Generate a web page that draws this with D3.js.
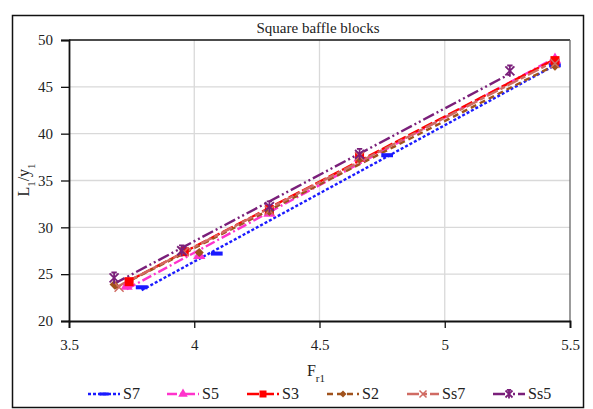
<!DOCTYPE html>
<html>
<head>
<meta charset="utf-8">
<script src="https://cdn.jsdelivr.net/npm/d3@7"></script>
<style>
  body { margin: 0; background: #fff; }
  text { font-family: "Liberation Serif", "DejaVu Serif", serif; fill: #222; }
</style>
</head>
<body>
<div id="chart"></div>
<script>
// series names, values
const seriesNames = ["S7", "S5", "S3", "S2", "Ss7", "Ss5"];
const s7x = [3.79, 4.09, 4.77, 5.44];
const s7y = [23.6, 27.2, 37.7, 47.3];
const s5x = [3.73, 4.02, 4.30, 4.66, 5.44];
const s5y = [23.7, 27.0, 31.5, 37.4, 47.9];
const s3x = [3.74, 3.96, 4.30, 4.66, 5.44];
const s3y = [24.2, 27.4, 31.9, 37.5, 47.8];
const s2x = [3.68, 4.02, 4.30, 4.66, 5.44];
const s2y = [23.9, 27.3, 31.7, 37.3, 47.2];
const ss7x = [3.70, 3.96, 4.30, 4.66, 5.44];
const ss7y = [23.6, 27.4, 31.8, 37.6, 47.5];
const ss5x = [3.68, 3.95, 4.30, 4.66, 5.26];
const ss5y = [24.6, 27.5, 32.2, 37.8, 46.7];
const xTicks = [3.5, 4, 4.5, 5, 5.5];
const yTicks = [20, 25, 30, 35, 40, 45, 50];

const styles = [
  { color: "#1a1aff", dash: "3,2", marker: "dash" },
  { color: "#ff33cc", dash: "10,3,2,3", marker: "triangle" },
  { color: "#ff0000", dash: "12,3", marker: "square" },
  { color: "#a0521c", dash: "6,4", marker: "diamond" },
  { color: "#d06b63", dash: "12,3,5,3", marker: "cross" },
  { color: "#7a1f7a", dash: "12,3,2,3,2,3", marker: "star" }
];

const xs = [s7x, s5x, s3x, s2x, ss7x, ss5x];
const ys = [s7y, s5y, s3y, s2y, ss7y, ss5y];
const series = seriesNames.map((name, i) => ({
  name: name,
  style: styles[i],
  points: xs[i].map((x, j) => ({ x: x, y: ys[i][j] }))
}));

const W = 593, H = 409;
const margin = { top: 40, right: 23, bottom: 88, left: 69 };
const width = W - margin.left - margin.right;
const height = H - margin.top - margin.bottom;

const svg = d3.select("#chart")
  .append("svg")
  .attr("width", W)
  .attr("height", H);

// outer frame
svg.append("rect")
  .attr("x", 12.5).attr("y", 15.5)
  .attr("width", 571).attr("height", 392)
  .attr("fill", "none")
  .attr("stroke", "#111")
  .attr("stroke-width", 1.5);

const g = svg.append("g")
  .attr("transform", `translate(${margin.left},${margin.top})`);

const x = d3.scaleLinear().domain([3.5, 5.5]).range([0, width]);
const y = d3.scaleLinear().domain([20, 50]).range([height, 0]);

// grid
g.selectAll("line.vgrid")
  .data(xTicks.slice(1, -1))
  .enter().append("line")
  .attr("x1", d => x(d)).attr("x2", d => x(d))
  .attr("y1", 0).attr("y2", height)
  .attr("stroke", "#d9d9d9").attr("stroke-width", 1.3);

g.selectAll("line.hgrid")
  .data(yTicks.slice(1, -1))
  .enter().append("line")
  .attr("x1", 0).attr("x2", width)
  .attr("y1", d => y(d)).attr("y2", d => y(d))
  .attr("stroke", "#d9d9d9").attr("stroke-width", 1.3);

// plot border: top black, right gray
g.append("line")
  .attr("x1", 0).attr("x2", width).attr("y1", 0).attr("y2", 0)
  .attr("stroke", "#111").attr("stroke-width", 1.5);
g.append("line")
  .attr("x1", width).attr("x2", width).attr("y1", 0).attr("y2", height)
  .attr("stroke", "#666").attr("stroke-width", 1.3);

// axes
const xAxis = g.append("g")
  .attr("transform", `translate(0,${height})`)
  .call(d3.axisBottom(x).tickValues(xTicks).tickSize(7).tickPadding(11).tickFormat(d3.format("")));
const yAxis = g.append("g")
  .call(d3.axisLeft(y).tickValues(yTicks).tickSize(8).tickPadding(8));

[xAxis, yAxis].forEach(a => {
  a.select(".domain").attr("stroke", "#111").attr("stroke-width", 1.8);
  a.selectAll(".tick line").attr("stroke", "#111").attr("stroke-width", 1.3);
  a.selectAll(".tick text")
    .style("font-family", '"Liberation Serif", serif')
    .style("font-size", "15px")
    .attr("fill", "#222");
});

// trendlines (least squares over each series)
function fit(pts) {
  const mx = d3.mean(pts, p => p.x), my = d3.mean(pts, p => p.y);
  const b = d3.sum(pts, p => (p.x - mx) * (p.y - my)) / d3.sum(pts, p => (p.x - mx) ** 2);
  const a = my - b * mx;
  const [x0, x1] = d3.extent(pts, p => p.x);
  return [{ x: x0, y: a + b * x0 }, { x: x1, y: a + b * x1 }];
}

const line = d3.line().x(d => x(d.x)).y(d => y(d.y));

series.forEach(s => {
  g.append("path")
    .datum(fit(s.points))
    .attr("fill", "none")
    .attr("stroke", s.style.color)
    .attr("stroke-width", 2.4)
    .attr("stroke-dasharray", s.style.dash)
    .attr("d", line);
});

// markers
function drawMarker(sel, type, color, size) {
  const r = size;
  if (type === "dash") {
    sel.append("rect").attr("x", -r * 1.3).attr("y", -r * 0.45)
      .attr("width", r * 2.6).attr("height", r * 0.9).attr("fill", color);
  } else if (type === "triangle") {
    sel.append("path").attr("d", d3.symbol(d3.symbolTriangle, r * r * 3.2)()).attr("fill", color);
  } else if (type === "square") {
    sel.append("rect").attr("x", -r).attr("y", -r)
      .attr("width", 2 * r).attr("height", 2 * r).attr("fill", color);
  } else if (type === "diamond") {
    sel.append("path").attr("d", `M0,${-r}L${r},0L0,${r}L${-r},0Z`).attr("fill", color);
  } else if (type === "cross") {
    sel.append("path").attr("d", `M${-r},${-r}L${r},${r}M${-r},${r}L${r},${-r}`)
      .attr("stroke", color).attr("stroke-width", 1.5);
  } else if (type === "star") {
    sel.append("path")
      .attr("d", `M${-r},${-r}L${r},${r}M${-r},${r}L${r},${-r}M0,${-r * 1.3}L0,${r * 1.3}M${-r * 0.6},${-r * 1.2}L${r * 0.6},${-r * 1.2}`)
      .attr("stroke", color).attr("stroke-width", 1.8);
  }
}

series.forEach(s => {
  s.points.forEach(p => {
    const m = g.append("g").attr("transform", `translate(${x(p.x)},${y(p.y)})`);
    drawMarker(m, s.style.marker, s.style.color, 4.5);
  });
});

// title and axis labels
svg.append("text")
  .attr("x", 318).attr("y", 33)
  .attr("text-anchor", "middle")
  .style("font-size", "15px")
  .text("Square baffle blocks");

const xl = svg.append("text")
  .attr("x", 316).attr("y", 376)
  .attr("text-anchor", "middle")
  .style("font-size", "16px");
xl.append("tspan").text("F");
xl.append("tspan").attr("baseline-shift", "sub").style("font-size", "11px").text("r1");

const yl = svg.append("text")
  .attr("transform", "translate(29,180) rotate(-90)")
  .attr("text-anchor", "middle")
  .style("font-size", "16px");
yl.append("tspan").text("L");
yl.append("tspan").attr("baseline-shift", "sub").style("font-size", "11px").text("1");
yl.append("tspan").text("/y");
yl.append("tspan").attr("baseline-shift", "sub").style("font-size", "11px").text("1");

// legend
const legendX = [88, 167, 247, 327, 407, 493];
const legend = svg.append("g").attr("transform", "translate(0,394)");
series.forEach((s, i) => {
  const item = legend.append("g").attr("transform", `translate(${legendX[i]},0)`);
  item.append("line")
    .attr("x1", 0).attr("x2", 32).attr("y1", 0).attr("y2", 0)
    .attr("stroke", s.style.color).attr("stroke-width", 2.4)
    .attr("stroke-dasharray", s.style.dash);
  const m = item.append("g").attr("transform", "translate(16,0)");
  drawMarker(m, s.style.marker, s.style.color, 3.5);
  item.append("text")
    .attr("x", 35).attr("y", 5)
    .style("font-size", "16px")
    .text(s.name);
});
</script>
</body>
</html>
